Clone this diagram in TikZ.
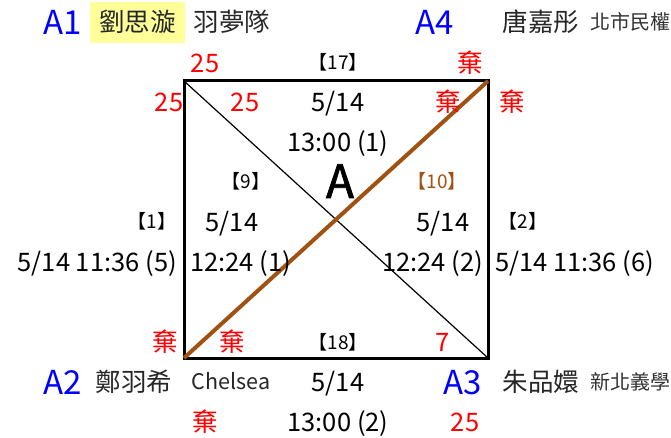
\documentclass[tikz,border=0pt]{standalone}
\usepackage{fontspec}
\setmainfont{Noto Sans CJK TC}
\newfontface\groupfont[FakeBold=1.6]{Noto Sans CJK TC}
\usepackage{tikz}
\usetikzlibrary{positioning}
\definecolor{lose}{RGB}{160,82,18}
\definecolor{hl}{RGB}{255,255,153}

\tikzset{
  every node/.style={inner sep=0pt},
  info/.style={font=\fontsize{25.5}{30}\selectfont, text height=18.5pt, text depth=0pt},
  score/.style={info, text=red},
  mno/.style={font=\fontsize{19}{22}\selectfont, text height=14pt, text depth=0pt},
  seed/.style={font=\fontsize{33}{38}\selectfont, text=blue, text height=24.5pt, text depth=0pt},
  who/.style={info, text=black!85},
  club/.style={font=\fontsize{20}{24}\selectfont, text=black!80, text height=15pt, text depth=0pt},
}

\begin{document}
\begin{tikzpicture}[x=1pt, y=-1pt]
\useasboundingbox (0,0) rectangle (671,438);
\clip (0,0) rectangle (671,438);
% corners of the group
\coordinate (TL) at (184,81);
\coordinate (TR) at (488,81);
\coordinate (BL) at (184,358);
\coordinate (BR) at (488,358);
\draw[line width=3pt] (TL) rectangle (BR);
\draw[line width=1.2pt] (TL) -- (BR);
\draw[line width=4pt, lose] (BL) -- (TR);

% players
\node[seed] (A1) at (63,22) {A1};
\node[who, fill=hl, minimum width=95, minimum height=41] (P1) at (137.5,22.5) {劉思漩};
\node[who] (T1) at (232,22) {羽夢隊};
\node[seed] (A4) at (435,22) {A4};
\node[who] (P4) at (541,22) {唐嘉彤};
\node[club, anchor=west] (T4) at (590,22) {北市民權};
\node[seed] (A2) at (63,382) {A2};
\node[who] (P2) at (134,382) {鄭羽希};
\node[club, font=\fontsize{21.5}{25}\selectfont, text=black!85] (T2) at (231,382) {Chelsea};
\node[seed] (A3) at (463,382) {A3};
\node[who] (P3) at (541,382) {朱品嬛};
\node[club, anchor=west] (T3) at (590,382) {新北義學};

% top match
\node[score] (S1a) at (205,63) {25};
\node[mno] (M17) at (338,63) {【17】};
\node[score] (S4a) at (470,63) {棄};
\node[score] (S1b) at (169,102) {25};
\node[score] (S1c) at (245,102) {25};
\node[info] (D17) at (338,102) {5/14};
\node[score] (S4c) at (448,102) {棄};
\node[score] (S4b) at (512,102) {棄};
\node[info] (H17) at (338,142) {13:00 (1)};

% middle
\node[font=\groupfont\fontsize{46}{52}\selectfont, text height=34pt, text depth=0pt] (G) at (340,181) {A};
\node[mno] (M9) at (246,182) {【9】};
\node[mno, text=lose] (M10) at (437,182) {【10】};
\node[mno] (M1) at (152,222) {【1】};
\node[info] (D9) at (232,222) {5/14};
\node[info] (D10) at (443,222) {5/14};
\node[mno] (M2) at (523,222) {【2】};
\node[info, anchor=east] (H1) at (177,262) {5/14 11:36 (5)};
\node[info, anchor=west] (H9) at (190,262) {12:24 (1)};
\node[info, anchor=east] (H10) at (483,262) {12:24 (2)};
\node[info, anchor=west] (H2) at (495,262) {5/14 11:36 (6)};

% bottom match
\node[score] (S2b) at (165,342) {棄};
\node[score] (S2c) at (232,342) {棄};
\node[mno] (M18) at (338,342) {【18】};
\node[score] (S3c) at (443,342) {7};
\node[info] (D18) at (338,382) {5/14};
\node[score] (S2a) at (205,422) {棄};
\node[info] (H18) at (338,422) {13:00 (2)};
\node[score] (S3a) at (465,422) {25};
\end{tikzpicture}
\end{document}
